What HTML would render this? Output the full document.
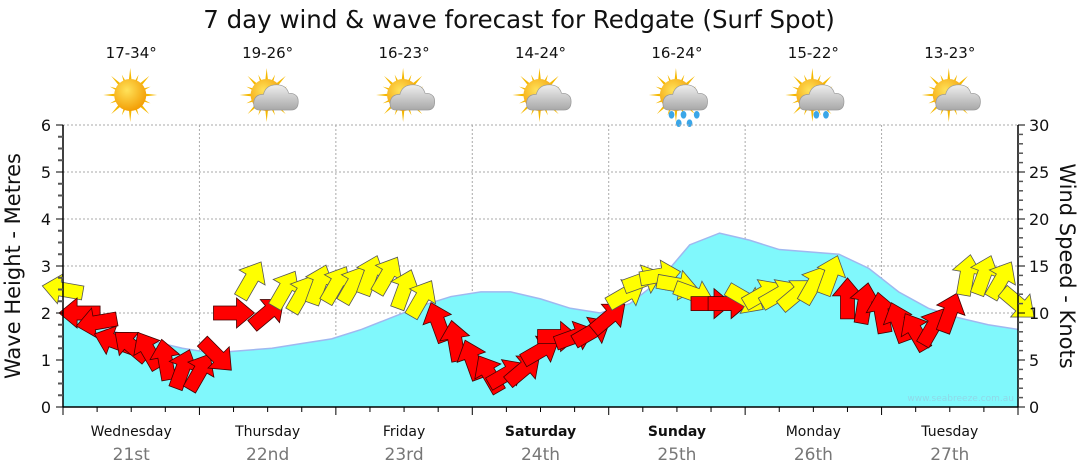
<!DOCTYPE html>
<html><head><meta charset="utf-8">
<style>
html,body{margin:0;padding:0;background:#fff;}
svg{display:block;font-family:"DejaVu Sans","Liberation Sans",sans-serif;}
</style></head>
<body>
<svg id="chart" width="1080" height="475" viewBox="0 0 1080 475" xmlns="http://www.w3.org/2000/svg">
<defs>
<radialGradient id="sunG" cx="0.4" cy="0.35" r="0.7"><stop offset="0" stop-color="#ffe25a"/><stop offset="1" stop-color="#f29a00"/></radialGradient>
<linearGradient id="cloudG" x1="0" y1="0" x2="0" y2="1"><stop offset="0" stop-color="#eeeeee"/><stop offset="1" stop-color="#a8a8a8"/></linearGradient>
</defs>
<text x="519" y="28" text-anchor="middle" font-size="24.5" fill="#111">7 day wind &amp; wave forecast for Redgate (Surf Spot)</text>
<g id="header"></g>
<g id="grid"></g>
<g id="waves"></g>
<g id="wind"></g>
<g id="axes"></g>
<text x="1014" y="401" text-anchor="end" font-size="9" fill="#8fd8e8">www.seabreeze.com.au</text>
<text transform="translate(20,266) rotate(-90)" text-anchor="middle" font-size="21" fill="#111">Wave Height - Metres</text>
<text transform="translate(1060,266) rotate(90)" text-anchor="middle" font-size="21" fill="#111">Wind Speed - Knots</text>
</svg>
<script>
const days = ["Wednesday","Thursday","Friday","Saturday","Sunday","Monday","Tuesday"];
const dates = ["21st","22nd","23rd","24th","25th","26th","27th"];
const boldDays = [false,false,false,true,true,false,false];
const temps = ["17-34°","19-26°","16-23°","14-24°","16-24°","15-22°","13-23°"];
const icons = ["sun","cloud","cloud","cloud","rain","rain2","cloud"];
const waveTicks = [0,1,2,3,4,5,6];
const windTicks = [0,5,10,15,20,25,30];
// wave height (m), every ~5.25 hours
const waveHeight = [1.95,1.75,1.55,1.4,1.25,1.15,1.2,1.25,1.35,1.45,1.65,1.9,2.15,2.35,2.45,2.45,2.3,2.1,2.0,2.2,2.7,3.45,3.7,3.55,3.35,3.3,3.25,2.95,2.45,2.1,1.9,1.75,1.65];
// wind, every 3 hours, 57 points
const windSpeed = [12.5,10,9,7,6.5,6,5,4,3.7,5.5,10,13.5,10,12.5,12,13,13,13,14,14,12.5,11.5,9,7,5,3.5,3.5,4,6,7.5,7.5,8,9.5,12,13.5,14,13,12,11,11,11.5,12,12,12,13,14,11.5,11,10,9,8,8.5,10,14,14,13.5,11];
const windDir = [190,180,170,200,220,240,260,290,300,45,0,300,320,300,300,290,300,300,290,300,290,300,250,260,250,240,330,320,330,0,340,330,320,330,340,350,10,20,0,0,30,330,330,320,300,290,270,280,260,250,240,300,290,280,290,300,40];
const windType = ["y","r","r","r","r","r","r","r","r","r","r","y","r","y","y","y","y","y","y","y","y","y","r","r","r","r","r","r","r","r","r","r","r","y","y","y","y","y","r","r","y","y","y","y","y","y","r","r","r","r","r","r","r","y","y","y","y"];

const NS="http://www.w3.org/2000/svg";
const X0=63,X1=1018,Y0=407,YT=125;
const dayW=(X1-X0)/7;
const xTime=h=>X0+h/24*dayW;
const yWave=m=>Y0-(Y0-YT)*m/6;
const yWind=k=>Y0-(Y0-YT)*k/30;
function mk(tag,attrs,parent){const e=document.createElementNS(NS,tag);for(const k in attrs)e.setAttribute(k,attrs[k]);parent.appendChild(e);return e;}
const grid=document.getElementById('grid'),axes=document.getElementById('axes'),header=document.getElementById('header'),waves=document.getElementById('waves'),wind=document.getElementById('wind');

waveTicks.forEach(m=>{if(m>0){const l=mk('line',{x1:X0,x2:X1,y1:yWave(m),y2:yWave(m),stroke:'#aaa','stroke-dasharray':'2,2'},grid);

}});
for(let d=1;d<7;d++){const l=mk('line',{x1:xTime(d*24),x2:xTime(d*24),y1:YT,y2:Y0,stroke:'#aaa','stroke-dasharray':'2,2'},grid);

}

let pts=waveHeight.map((v,i)=>[xTime(i*168/(waveHeight.length-1)),yWave(v)]);
let d='M'+X0+','+Y0+' '+pts.map(p=>'L'+p[0].toFixed(1)+','+p[1].toFixed(1)).join(' ')+' L'+X1+','+Y0+'Z';
const wa=mk('path',{d:d,fill:'#80f8fc'},waves);


const wl=mk('polyline',{points:pts.map(p=>p.join(',')).join(' '),fill:'none',stroke:'#9fb8f0','stroke-width':1.5},waves);



const arrowPath='M-20,-7 L3,-7 L3,-15 L21,0 L3,15 L3,7 L-20,7 Z';
windSpeed.forEach((k,i)=>{
  const x=xTime(i*3),y=yWind(k);
  const a=mk('path',{d:arrowPath,transform:`translate(${x.toFixed(1)},${y.toFixed(1)}) rotate(${windDir[i]})`,fill:windType[i]==='y'?'#ffff00':'#ff0000',stroke:windType[i]==='y'?'#555':'#400','stroke-width':0.8},wind);
  
  
});

const al=mk('line',{x1:X0,x2:X0,y1:YT,y2:Y0,stroke:'#000','stroke-width':1.5},axes);


const ar=mk('line',{x1:X1,x2:X1,y1:YT,y2:Y0,stroke:'#000','stroke-width':1.5},axes);


const ab=mk('line',{x1:X0,x2:X1,y1:Y0,y2:Y0,stroke:'#000','stroke-width':1.5},axes);


for(let q=0;q<=24;q++){const y=yWave(q/4),maj=q%4===0;
  mk('line',{x1:X0-(maj?7:5),x2:X0,y1:y,y2:y,stroke:maj?'#000':'#555','stroke-width':maj?1:2},axes);}
for(let q=0;q<=30;q++){const y=yWind(q),maj=q%5===0;
  mk('line',{x1:X1,x2:X1+(maj?7:5),y1:y,y2:y,stroke:maj?'#000':'#555','stroke-width':maj?1:1.5},axes);}
for(let h=0;h<=168;h+=6){const x=xTime(h);mk('line',{x1:x,x2:x,y1:Y0,y2:Y0+(h%24===0?8:5),stroke:'#000'},axes);}
waveTicks.forEach(m=>{const t=mk('text',{x:X0-12,y:yWave(m)+6,'text-anchor':'end','font-size':16,fill:'#111'},axes);t.textContent=m;

});
windTicks.forEach(k=>{const t=mk('text',{x:X1+11,y:yWind(k)+6,'font-size':16,fill:'#111'},axes);t.textContent=k;

});
days.forEach((n,i)=>{const cx=xTime(i*24+12);
  const t=mk('text',{x:cx,y:436,'text-anchor':'middle','font-size':14,fill:'#111','font-weight':boldDays[i]?'bold':'normal'},axes);t.textContent=n;
  
  
  const t2=mk('text',{x:cx,y:460,'text-anchor':'middle','font-size':17,fill:'#777'},axes);t2.textContent=dates[i];
  
  
  const t3=mk('text',{x:cx,y:58,'text-anchor':'middle','font-size':15,fill:'#111'},header);t3.textContent=temps[i];
  
  
  const g=mk('g',{transform:`translate(${cx-1},95)`},header);
  
  
  for(let r=0;r<16;r++){const ang=r*22.5,len=r%2?22:27;
    mk('polygon',{points:`-3,0 3,0 0,-${len}`,fill:'#f5b800',transform:`rotate(${ang})`},g);}
  mk('circle',{cx:0,cy:0,r:16,fill:'url(#sunG)'},g);
  if(icons[i]!=='sun'){
    const c=mk('g',{transform:'translate(10,3) scale(1.2)'},g);
    mk('path',{d:'M-14,10 Q-20,10 -19,3 Q-18,-3 -11,-3 Q-9,-11 0,-11 Q8,-11 10,-4 Q18,-4 18,3 Q18,10 12,10 Z',fill:'url(#cloudG)',stroke:'#999','stroke-width':0.6},c);
    const drops=icons[i]==='rain'?[[-12,14],[-2,14],[9,14],[-6,21],[3,21]]:icons[i]==='rain2'?[[-5,14],[3,14]]:[];
    drops.forEach(p=>mk('ellipse',{cx:p[0],cy:p[1],rx:2.4,ry:3.2,fill:'#3aa6e8'},c));
  }
});
</script>
</body></html>
